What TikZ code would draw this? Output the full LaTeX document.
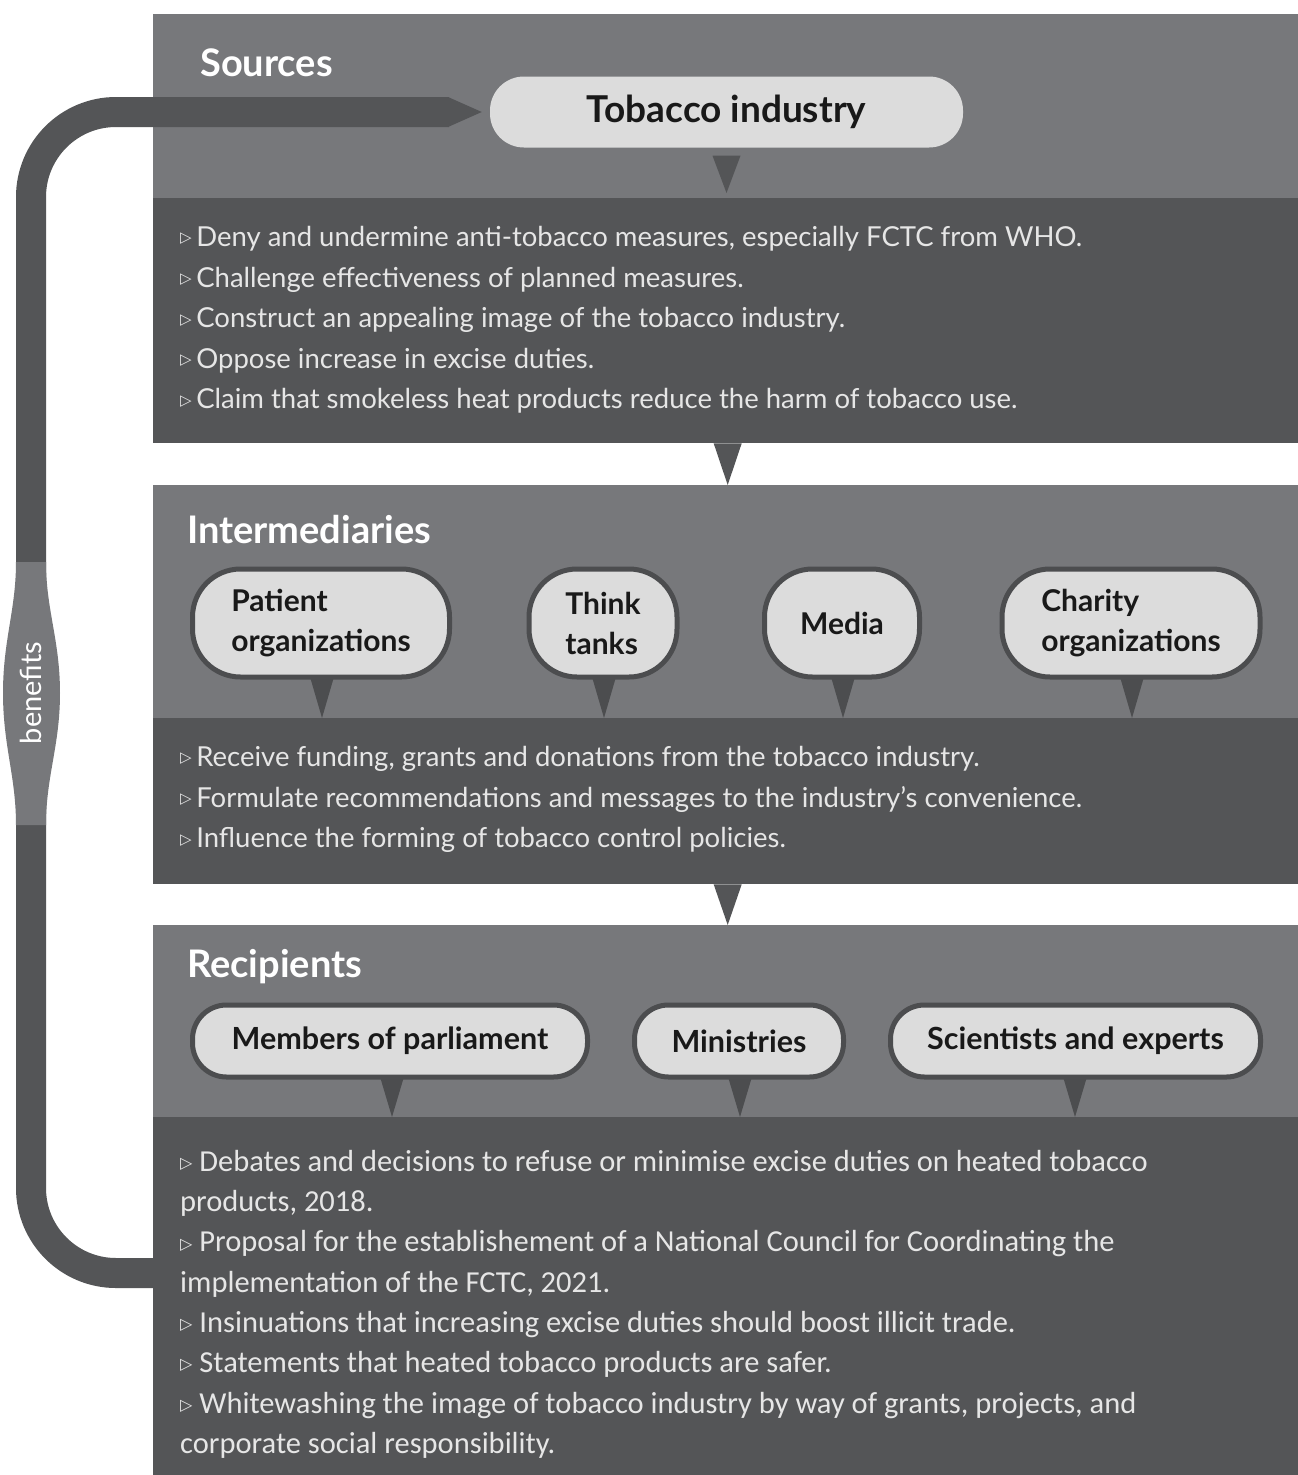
\documentclass[tikz,border=0pt]{standalone}
\usepackage{fontspec}
\setmainfont{Lato}
\newfontfamily\calib{Carlito}
\newfontfamily\sym{DejaVu Sans}
\usetikzlibrary{positioning}
\definecolor{panelgray}{HTML}{77787B}
\definecolor{bandgray}{HTML}{545557}
\definecolor{pillgray}{HTML}{DCDCDC}
\definecolor{edgegray}{HTML}{4C4D4F}
\definecolor{txtgray}{HTML}{E6E6E6}
\newcommand\tri{\raisebox{0.25ex}{\sym\fontsize{15}{15}\selectfont ▷}}
\newcommand\ctri{\raisebox{0.2ex}{\sym\fontsize{16}{16}\selectfont ▷}}
\tikzset{
  panel/.style={fill=panelgray, anchor=north west, inner sep=0pt, minimum width=1145pt},
  band/.style={fill=bandgray, anchor=north west, inner sep=0pt, minimum width=1145pt},
  heading/.style={text=white, font=\fontsize{38}{40}\selectfont\bfseries, anchor=west, inner sep=0pt},
  bubble/.style={draw=edgegray, line width=5pt, fill=pillgray, rounded corners=48pt,
    minimum height=108pt, inner sep=0pt, align=left, text=black!90,
    font=\fontsize{30}{40}\selectfont\bfseries},
  pill/.style={draw=edgegray, line width=5pt, fill=pillgray, rounded corners=34pt,
    minimum height=72pt, inner sep=0pt, text=black!90, font=\fontsize{30.5}{40}\selectfont\bfseries},
  list/.style={text=txtgray, anchor=north west, inner sep=0pt, align=left,
    font=\fontsize{27.5}{40.6}\selectfont},
  loopline/.style={draw=bandgray, line width=30pt, rounded corners=85pt}
}
\begin{document}
\begin{tikzpicture}[x=1pt, y=-1pt]
  \useasboundingbox[fill=white] (0,0) rectangle (1298,1475);
  % panels
  \node[panel, minimum height=184pt] (p1) at (153,14) {};
  \node[band, minimum height=245pt] (b1) at (153,198) {};
  \node[panel, minimum height=233pt] (p2) at (153,485) {};
  \node[band, minimum height=166pt] (b2) at (153,718) {};
  \node[panel, minimum height=192pt] (p3) at (153,925) {};
  \node[band, minimum height=358pt] (b3) at (153,1117) {};
  \node[heading] (h1) at (200,63) {Sources};
  \node[heading] (h2) at (187,530) {Intermediaries};
  \node[heading] (h3) at (187,967) {Recipients};
  % sources
  \node[fill=pillgray, rounded corners=34pt, minimum width=473pt, minimum height=71pt,
    text=black!90, font=\fontsize{37}{40}\selectfont\bfseries] (ind) at (726.5,112) {Tobacco industry};
  \fill[bandgray] ([xshift=-14pt, yshift=-8pt]ind.south) -- ([xshift=14pt, yshift=-8pt]ind.south)
    -- ([yshift=5pt]ind.south |- b1.north) -- cycle;
  \node[list] (l1) at (180,226) {\tri\,Deny and undermine anti-tobacco measures, especially FCTC from WHO.\\
    \tri\,Challenge effectiveness of planned measures.\\
    \tri\,Construct an appealing image of the tobacco industry.\\
    \tri\,Oppose increase in excise duties.\\
    \tri\,Claim that smokeless heat products reduce the harm of tobacco use.};
  \fill[bandgray] ([xshift=-12pt]b1.south) -- ([xshift=16pt]b1.south)
    -- ([xshift=2pt]b1.south |- p2.north) -- cycle;
  % intermediaries
  \fill[edgegray] (308,670) -- (336,670) -- (322,718) -- cycle;
  \fill[edgegray] (590,670) -- (618,670) -- (604,718) -- cycle;
  \fill[edgegray] (829,670) -- (857,670) -- (843,718) -- cycle;
  \fill[edgegray] (1118,670) -- (1146,670) -- (1132,718) -- cycle;
  \node[bubble, minimum width=257pt] (pat) at (321,623) {Patient\\organizations};
  \node[bubble, minimum width=148pt] (thk) at (603,623) {Think\\tanks};
  \node[bubble, minimum width=155pt] (med) at (842,623) {Media};
  \node[bubble, minimum width=258pt] (cha) at (1131,623) {Charity\\organizations};
  \node[list] (l2) at (180,746) {\tri\,Receive funding, grants and donations from the tobacco industry.\\
    \tri\,Formulate recommendations and messages to the industry's convenience.\\
    \tri\,Influence the forming of tobacco control policies.};
  \fill[bandgray] ([xshift=-12pt]b2.south) -- ([xshift=16pt]b2.south)
    -- ([xshift=2pt]b2.south |- p3.north) -- cycle;
  % recipients
  \fill[edgegray] (378,1070) -- (406,1070) -- (392,1117) -- cycle;
  \fill[edgegray] (726,1070) -- (754,1070) -- (740,1117) -- cycle;
  \fill[edgegray] (1061,1070) -- (1089,1070) -- (1075,1117) -- cycle;
  \node[pill, minimum width=395pt] (mps) at (390,1041) {Members of parliament};
  \node[pill, minimum width=209pt] (min) at (739,1041) {Ministries};
  \node[pill, minimum width=370pt] (sci) at (1075.5,1041) {Scientists and experts};
  \node[list, font=\calib\fontsize{30.5}{40.3}\selectfont] (l3) at (180,1150)
    {\ctri\ Debates and decisions to refuse or minimise excise duties on heated tobacco\\
    products, 2018.\\
    \ctri\ Proposal for the establishement of a National Council for Coordinating the\\
    implementation of the FCTC, 2021.\\
    \ctri\ Insinuations that increasing excise duties should boost illicit trade.\\
    \ctri\ Statements that heated tobacco products are safer.\\
    \ctri\ Whitewashing the image of tobacco industry by way of grants, projects, and\\
    corporate social responsibility.};
  % benefits loop
  \coordinate (tip) at ([xshift=-8pt]ind.west);
  \draw[loopline] (b3.west |- 0,1273) -| (31,112) -- (449,112);
  \fill[bandgray] (448,97) -- (tip) -- (448,127) -- cycle;
  \fill[panelgray] (16,562) .. controls (16,610) and (3,640) .. (3,693)
    .. controls (3,746) and (16,776) .. (16,825) -- (46,825)
    .. controls (46,776) and (60,746) .. (60,693)
    .. controls (60,640) and (46,610) .. (46,562) -- cycle;
  \node[rotate=90, text=white, font=\fontsize{29}{29}\selectfont] (ben) at (31,693) {benefits};
\end{tikzpicture}
\end{document}
